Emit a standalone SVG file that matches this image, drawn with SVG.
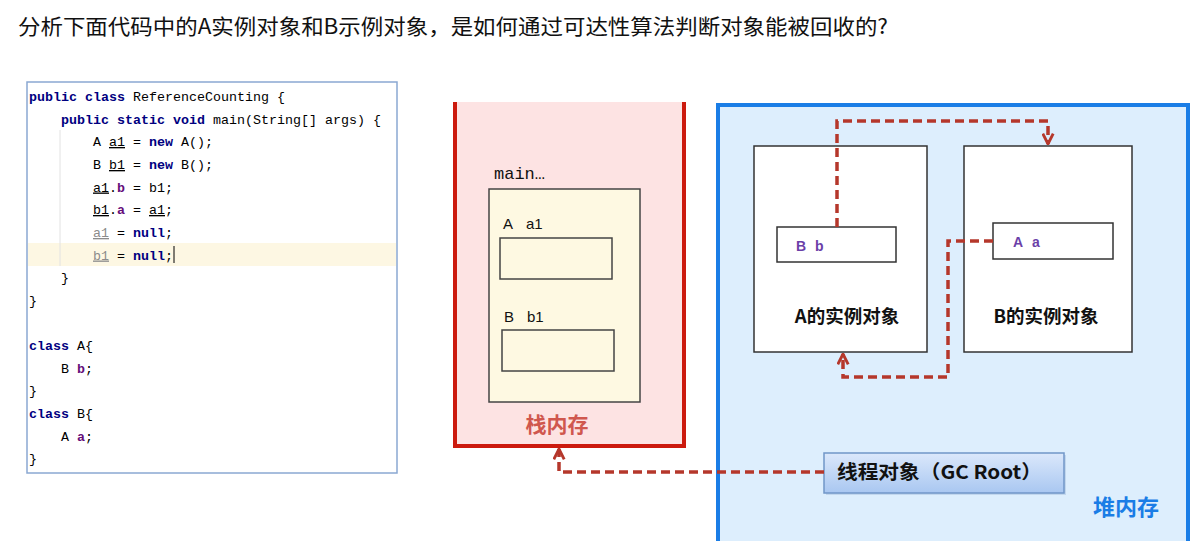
<svg xmlns="http://www.w3.org/2000/svg" width="1198" height="541" viewBox="0 0 1198 541">
<defs>
<style>
.title{font-family:"Noto Sans CJK SC","Noto Sans",sans-serif;font-size:21px;fill:#111}
.code{font-family:"Liberation Mono","DejaVu Sans Mono",monospace;font-size:13.33px;fill:#000;white-space:pre}
.kw{fill:#000080;font-weight:bold}
.fd{fill:#660e7a;font-weight:bold}
.gr{fill:#8c8c8c}
.ul{text-decoration:underline}
.box{fill:#fff;stroke:#333;stroke-width:1.5}
.ybox{fill:#fef9e2;stroke:#444;stroke-width:1.5}
.lbl{font-family:"Noto Sans CJK SC","Noto Sans",sans-serif;font-weight:bold}
.mono{font-family:"Liberation Mono","DejaVu Sans Mono",monospace}
.san{font-family:"Liberation Sans","Noto Sans",sans-serif}
.dash{fill:none;stroke:#b5372b;stroke-width:3.5;stroke-dasharray:9 5}
</style>
<marker id="arr" viewBox="0 0 10 10" refX="9" refY="5" markerWidth="13" markerHeight="13" orient="auto" markerUnits="userSpaceOnUse">
<path d="M1,1 L9,5 L1,9" fill="none" stroke="#b5372b" stroke-width="2.2"/>
</marker>
<linearGradient id="gcg" x1="0" y1="0" x2="0" y2="1">
<stop offset="0" stop-color="#dbe8fb"/>
<stop offset="1" stop-color="#a9c7f1"/>
</linearGradient>
</defs>
<rect width="1198" height="541" fill="#fff"/>

<text class="title" x="18" y="34" textLength="870" lengthAdjust="spacingAndGlyphs">分析下面代码中的A实例对象和B示例对象，是如何通过可达性算法判断对象能被回收的?</text>

<g id="code">
<rect x="27" y="82" width="370" height="391" fill="#fff" stroke="#8aa8d2" stroke-width="1.5"/>
<rect x="28" y="243" width="368" height="23" fill="#fdf7e3"/>
<line x1="60" y1="130" x2="60" y2="266" stroke="#e2e2e2" stroke-width="1"/>
<text class="code" x="29" y="101"><tspan class="kw">public class</tspan> ReferenceCounting {</text>
<text class="code" x="61" y="123.5"><tspan class="kw">public static void</tspan> main(String[] args) {</text>
<text class="code" x="93" y="146">A <tspan class="ul">a1</tspan> = <tspan class="kw">new</tspan> A();</text>
<text class="code" x="93" y="169">B <tspan class="ul">b1</tspan> = <tspan class="kw">new</tspan> B();</text>
<text class="code" x="93" y="191.5"><tspan class="ul">a1</tspan>.<tspan class="fd">b</tspan> = b1;</text>
<text class="code" x="93" y="214"><tspan class="ul">b1</tspan>.<tspan class="fd">a</tspan> = <tspan class="ul">a1</tspan>;</text>
<text class="code" x="93" y="237"><tspan class="gr ul">a1</tspan> = <tspan class="kw">null</tspan>;</text>
<text class="code" x="93" y="259.5"><tspan class="gr ul">b1</tspan> = <tspan class="kw">null</tspan>;</text>
<line x1="174" y1="246" x2="174" y2="263" stroke="#000" stroke-width="1"/>
<text class="code" x="61" y="282">}</text>
<text class="code" x="29" y="305">}</text>
<text class="code" x="29" y="350"><tspan class="kw">class</tspan> A{</text>
<text class="code" x="61" y="373">B <tspan class="fd">b</tspan>;</text>
<text class="code" x="29" y="395">}</text>
<text class="code" x="29" y="418"><tspan class="kw">class</tspan> B{</text>
<text class="code" x="61" y="441">A <tspan class="fd">a</tspan>;</text>
<text class="code" x="29" y="463">}</text>
</g>

<g id="stack">
<path d="M455,102 L455,446 L684,446 L684,102 Z" fill="#fde3e3" stroke="none"/>
<path d="M455,102 L455,446 L684,446 L684,102" fill="none" stroke="#cc1a0e" stroke-width="4"/>
<text class="mono" x="494" y="179" font-size="17" fill="#111">main…</text>
<rect class="ybox" x="489" y="189" width="151" height="213"/>
<text class="san" y="229" font-size="15" fill="#111"><tspan x="503">A</tspan><tspan x="526">a1</tspan></text>
<rect class="ybox" x="500" y="238" width="112" height="41"/>
<text class="san" y="322" font-size="15" fill="#111"><tspan x="504">B</tspan><tspan x="527">b1</tspan></text>
<rect class="ybox" x="502" y="330" width="112" height="41"/>
<text class="lbl" x="557" y="432" font-size="21" fill="#d0574e" text-anchor="middle">栈内存</text>
</g>

<g id="heap">
<rect x="718" y="105" width="470" height="450" fill="#ddeefd" stroke="#1a7de6" stroke-width="4"/>
<text class="lbl" x="1126" y="515" font-size="22" fill="#1a7de6" text-anchor="middle">堆内存</text>
</g>

<g id="objA">
<rect class="box" x="754" y="146" width="173" height="206"/>
<rect class="box" x="777" y="227" width="119" height="35"/>
<text class="san" y="251" font-size="14" font-weight="bold" fill="#6b3fa8"><tspan x="796">B</tspan><tspan x="815">b</tspan></text>
<text class="lbl" x="847" y="323" font-size="18.5" fill="#111" text-anchor="middle">A的实例对象</text>
</g>

<g id="objB">
<rect class="box" x="964" y="146" width="168" height="206"/>
<rect class="box" x="993" y="223" width="120" height="36"/>
<text class="san" y="247" font-size="14" font-weight="bold" fill="#6b3fa8"><tspan x="1013">A</tspan><tspan x="1032">a</tspan></text>
<text class="lbl" x="1046" y="323" font-size="18.5" fill="#111" text-anchor="middle">B的实例对象</text>
</g>

<g id="gcroot">
<rect x="826" y="455" width="240" height="40" fill="#9ab4d8" opacity="0.4"/>
<rect x="824" y="453" width="240" height="40" fill="url(#gcg)" stroke="#7096c8" stroke-width="1.5"/>
<text class="lbl" x="837" y="479" font-size="19" fill="#111" textLength="205" lengthAdjust="spacingAndGlyphs">线程对象（GC Root）</text>
</g>

<g id="connectors">
<path class="dash" d="M837,227 L837,121 L1048,121 L1048,144" marker-end="url(#arr)"/>
<path class="dash" d="M993,241 L948,241 L948,377 L843,377 L843,354" marker-end="url(#arr)"/>
<path class="dash" d="M824,472 L559,472 L559,449" marker-end="url(#arr)"/>
</g>
</svg>
